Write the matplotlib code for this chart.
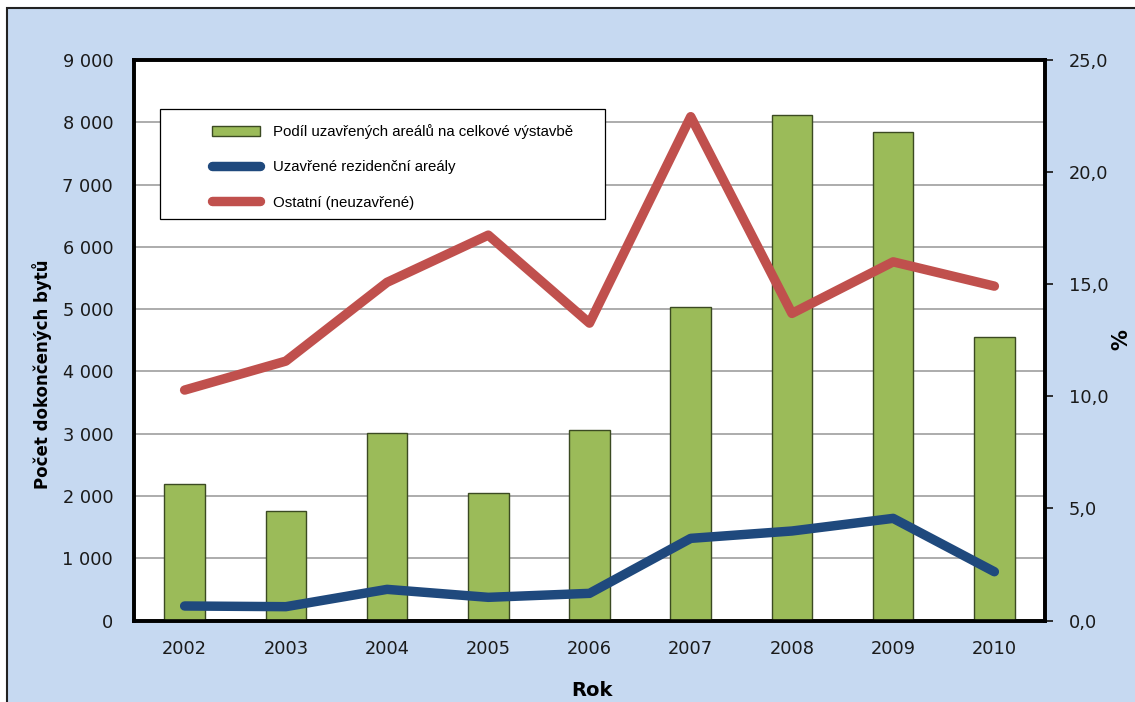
import matplotlib
matplotlib.use("Agg")
import matplotlib.pyplot as plt
from matplotlib.patches import Rectangle, Patch
from matplotlib.lines import Line2D
from matplotlib.ticker import FuncFormatter, MultipleLocator, FixedLocator

# dokončené byty 2002-2010
roky = ["2002", "2003", "2004", "2005", "2006", "2007", "2008", "2009", "2010"]
podil_pct = [6.07, 4.90, 8.37, 5.70, 8.48, 14.0, 22.55, 21.8, 12.65]
uzavrene = [233, 222, 500, 372, 436, 1319, 1437, 1640, 783]
ostatni = [3700, 4165, 5430, 6188, 4775, 8090, 4931, 5759, 5369]

W, H = 1135, 702
zelena = "#9BBB59"
modra = "#1F497D"
cervena = "#C0504D"
pozadi = "#C6D9F1"

fig = plt.figure(figsize=(W / 100, H / 100), dpi=100, facecolor="white")

# modrý rámeček grafu
fig.add_artist(Rectangle((7 / W, -0.1), 1.2, (H - 8) / H + 0.1,
                         transform=fig.transFigure, facecolor=pozadi,
                         edgecolor="#222222", lw=1.5, zorder=0))

left, right, top, bottom = 134 / W, 1045 / W, 1 - 60 / H, 1 - 620.5 / H
ax2 = fig.add_axes([left, bottom, right - left, top - bottom])  # % osa se sloupci
ax = ax2.twinx()
ax.yaxis.tick_left()
ax.yaxis.set_label_position("left")
ax2.yaxis.tick_right()
ax2.yaxis.set_label_position("right")
ax.set_zorder(ax2.get_zorder() + 1)
ax.patch.set_visible(False)
ax2.set_facecolor("white")

x = list(range(len(roky)))

# sloupce - podíl v %
ax2.bar(x, podil_pct, width=0.4, color=zelena, edgecolor="#3B4A22", linewidth=1.0, zorder=3)
ax2.set_ylim(0, 25)
ax2.yaxis.set_major_locator(MultipleLocator(5))
ax2.yaxis.set_major_formatter(FuncFormatter(lambda v, p: f"{v:.1f}".replace(".", ",")))
# mřížka po 1000 bytech levé osy
ax2.yaxis.set_minor_locator(FixedLocator([k * 25 / 9 for k in range(1, 9)]))
ax2.grid(which="minor", axis="y", color="#969696", linewidth=1.1, zorder=0)
ax2.tick_params(axis="y", which="minor", length=0)
ax2.tick_params(axis="y", which="major", direction="out", length=6, width=1.3,
                color="#222222", pad=11, labelsize=12.8, labelcolor="#1a1a1a")

# čáry - počty bytů
ax.plot(x, uzavrene, color=modra, lw=6.8, solid_capstyle="round", solid_joinstyle="round")
ax.plot(x, ostatni, color=cervena, lw=6.8, solid_capstyle="round", solid_joinstyle="round")
ax.set_ylim(0, 9000)
ax.set_yticks(range(0, 9001, 1000))
ax.yaxis.set_major_formatter(FuncFormatter(lambda v, p: f"{int(v):,}".replace(",", " ")))
ax.tick_params(axis="y", length=0, pad=15, labelsize=12.8, labelcolor="#1a1a1a")

ax2.set_xlim(-0.5, len(roky) - 0.5)
ax2.set_xticks(x)
ax2.set_xticklabels(roky)
ax2.tick_params(axis="x", length=0, pad=14, labelsize=12.8, labelcolor="#1a1a1a")

for a in (ax, ax2):
    for s in a.spines.values():
        s.set_color("black")
        s.set_linewidth(2.6)

fig.text(42 / W, 1 - 374 / H, "Počet dokončených bytů", rotation=90,
         ha="center", va="center", fontsize=12, fontweight="bold")
fig.text(1121 / W, 1 - 340 / H, "%", rotation=90, ha="center", va="center",
         fontsize=15, fontweight="bold")
fig.text(592 / W, 1 - 690 / H, "Rok", ha="center", va="center",
         fontsize=14, fontweight="bold")

# legenda s vlastním rámečkem
ax.add_artist(Rectangle((160 / W, 1 - 219 / H), 445 / W, 110 / H,
                        transform=fig.transFigure, facecolor="white",
                        edgecolor="black", lw=0.9, zorder=5))
handles = [
    Patch(facecolor=zelena, edgecolor="#3B4A22", linewidth=1.0),
    Line2D([], [], color=modra, lw=6.8, solid_capstyle="round"),
    Line2D([], [], color=cervena, lw=6.8, solid_capstyle="round"),
]
labels = ["Podíl uzavřených areálů na celkové výstavbě",
          "Uzavřené rezidenční areály",
          "Ostatní (neuzavřené)"]
leg = ax.legend(handles, labels, loc="upper left",
                bbox_to_anchor=(212 / W, 1 - 124 / H), bbox_transform=fig.transFigure,
                frameon=False, borderpad=0, borderaxespad=0,
                handlelength=3.2, handleheight=0.65, handletextpad=0.85,
                labelspacing=1.42, prop={"family": "Liberation Sans", "size": 10.8})
leg.set_zorder(6)

fig.savefig("out.png", dpi=100)
